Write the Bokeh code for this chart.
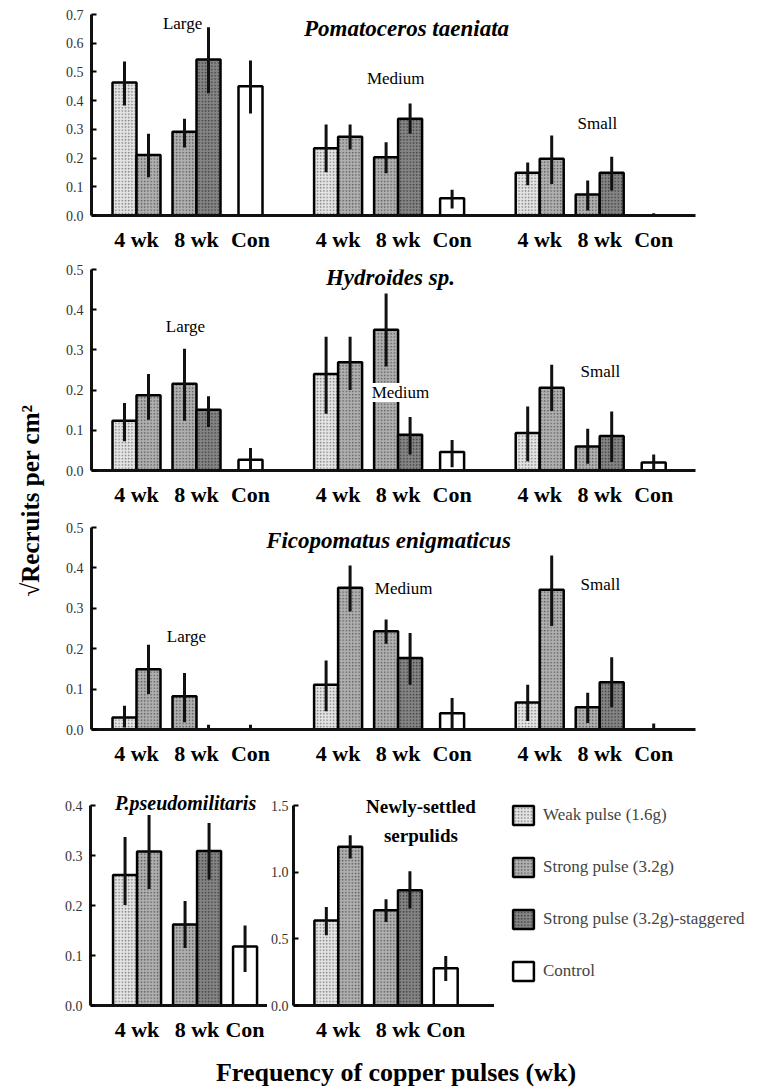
from bokeh.plotting import figure
from bokeh.layouts import row, column
from bokeh.models import (Range1d, FixedTicker, Label, Legend, LegendItem,
                          ColumnDataSource, NumeralTickFormatter)
from bokeh.embed import file_html
from bokeh.resources import INLINE

# ---------------- data ----------------
SIZE_GROUPS = ["Large", "Medium", "Small"]
TICK_LABELS = ["4 wk", "8 wk", "Con"]
TREATMENTS = ["Weak pulse (1.6g)", "Strong pulse (3.2g)",
              "Strong pulse (3.2g)-staggered", "Control"]
# bar order inside each group: weak 4wk, strong 4wk, strong 8wk, staggered 8wk, control
BAR_TREATMENT = [0, 1, 1, 2, 3]

pomato_mean = [0.463, 0.211, 0.292, 0.543, 0.450,
               0.234, 0.274, 0.203, 0.337, 0.060,
               0.149, 0.198, 0.073, 0.149, 0.000]
pomato_lo = [0.383, 0.133, 0.237, 0.426, 0.355,
             0.151, 0.230, 0.147, 0.285, 0.024,
             0.105, 0.110, 0.017, 0.087, 0.000]
pomato_hi = [0.536, 0.285, 0.337, 0.656, 0.540,
             0.317, 0.317, 0.255, 0.390, 0.090,
             0.185, 0.279, 0.122, 0.205, 0.008]

hydro_mean = [0.124, 0.187, 0.216, 0.151, 0.027,
              0.240, 0.269, 0.350, 0.089, 0.046,
              0.093, 0.206, 0.060, 0.086, 0.020]
hydro_lo = [0.073, 0.126, 0.124, 0.108, 0.000,
            0.141, 0.200, 0.259, 0.040, 0.008,
            0.023, 0.148, 0.017, 0.021, 0.004]
hydro_hi = [0.168, 0.240, 0.303, 0.185, 0.056,
            0.333, 0.333, 0.440, 0.133, 0.076,
            0.159, 0.263, 0.104, 0.147, 0.040]

fico_mean = [0.030, 0.149, 0.082, 0.000, 0.000,
             0.111, 0.351, 0.243, 0.177, 0.040,
             0.067, 0.346, 0.055, 0.117, 0.000]
fico_lo = [0.005, 0.088, 0.018, 0.000, 0.000,
           0.045, 0.292, 0.212, 0.111, 0.000,
           0.021, 0.256, 0.016, 0.055, 0.000]
fico_hi = [0.059, 0.210, 0.140, 0.012, 0.012,
           0.171, 0.406, 0.272, 0.239, 0.078,
           0.111, 0.431, 0.091, 0.179, 0.015]

pseudo_mean = [0.261, 0.308, 0.162, 0.309, 0.118]
pseudo_lo = [0.201, 0.233, 0.115, 0.252, 0.067]
pseudo_hi = [0.337, 0.381, 0.209, 0.365, 0.160]

newly_mean = [0.638, 1.190, 0.714, 0.864, 0.280]
newly_lo = [0.526, 1.103, 0.626, 0.727, 0.183]
newly_hi = [0.739, 1.276, 0.797, 1.006, 0.371]

# ---------------- styles ----------------
FONT = "Liberation Serif"
FILL = ["#e4e4e4", "#b0b0b0", "#858585", "#ffffff"]
HATCH = ["#7a7a7a", "#5a5a5a", "#3a3a3a", "#ffffff"]
PATTERN = ["dot", "dot", "dot", " "]

OFFS_WIDE = [0.0, 1.0, 2.5, 3.5, 5.25]
OFFS_SMALL = [0.0, 1.0, 2.5, 3.5, 5.0]
STRIDE = 8.4


def bar_style(t):
    return dict(fill_color=FILL[t], hatch_pattern=PATTERN[t], hatch_color=HATCH[t],
                hatch_scale=3.2, hatch_weight=1.0, line_color="black", line_width=2.5)


def make_panel(mean, lo, hi, offs, n_groups, xr, yr, ybound, yticks, width, height,
               borders, label_size, ystand=8):
    left, right, top, bottom = borders
    p = figure(width=width, height=height, x_range=Range1d(*xr), y_range=Range1d(*yr),
               toolbar_location=None, output_backend="svg",
               min_border_left=left, min_border_right=right,
               min_border_top=top, min_border_bottom=bottom)
    p.outline_line_color = None
    p.grid.visible = False
    p.background_fill_color = "white"
    xs = [g * STRIDE + o for g in range(n_groups) for o in offs]
    tr = [BAR_TREATMENT[i % 5] for i in range(len(xs))]
    for t in range(4):
        idx = [i for i in range(len(xs)) if tr[i] == t]
        src = ColumnDataSource(dict(x=[xs[i] for i in idx], top=[mean[i] for i in idx]))
        p.vbar(x="x", top="top", bottom=0, width=1.0, source=src, **bar_style(t))
    p.segment(x0=xs, y0=lo, x1=xs, y1=hi, line_color="#111111", line_width=3)

    ticks, overrides = [], {}
    for g in range(n_groups):
        base = g * STRIDE
        for pos, lab in zip([base + (offs[0] + offs[1]) / 2,
                             base + (offs[2] + offs[3]) / 2,
                             base + offs[4]], TICK_LABELS):
            ticks.append(pos)
            overrides[pos] = lab
    xa = p.xaxis[0]
    xa.ticker = FixedTicker(ticks=ticks)
    xa.major_label_overrides = overrides
    xa.major_tick_in = 0
    xa.major_tick_out = 0
    xa.minor_tick_line_color = None
    xa.axis_line_width = 3
    xa.axis_line_color = "#111111"
    xa.major_label_text_font = FONT
    xa.major_label_text_font_style = "bold"
    xa.major_label_text_font_size = label_size
    xa.major_label_text_color = "black"
    xa.major_label_standoff = 11

    ya = p.yaxis[0]
    ya.ticker = FixedTicker(ticks=yticks)
    ya.formatter = NumeralTickFormatter(format="0.0")
    ya.bounds = ybound
    ya.major_tick_in = 5
    ya.major_tick_out = 0
    ya.major_tick_line_width = 2
    ya.minor_tick_line_color = None
    ya.axis_line_width = 3
    ya.axis_line_color = "#111111"
    ya.major_label_text_font = FONT
    ya.major_label_text_font_size = "14px"
    ya.major_label_text_color = "#333333"
    ya.major_label_standoff = ystand
    return p


def add_text(p, x, y, text, size, style="normal", bg=None):
    p.add_layout(Label(x=x, y=y, text=text, text_font=FONT, text_font_size=size,
                       text_font_style=style, text_align="center",
                       text_baseline="middle", text_color="black",
                       background_fill_color=bg))


XR_WIDE = (-1.375, -1.375 + 604 / 24)

# Panel 1
p1 = make_panel(pomato_mean, pomato_lo, pomato_hi, OFFS_WIDE, 3, XR_WIDE, (0, 0.7), (0, 0.7),
                [0, 0.1, 0.2, 0.3, 0.4, 0.5, 0.6, 0.7], 662, 258, (38, 20, 14, 43), "22px")
add_text(p1, 11.75, 0.651, "Pomatoceros taeniata", "23px", "bold italic")
add_text(p1, 2.42, 0.669, SIZE_GROUPS[0], "17px")
add_text(p1, 11.3, 0.477, SIZE_GROUPS[1], "17px")
add_text(p1, 19.7, 0.32, SIZE_GROUPS[2], "17px")

# Panel 2
p2 = make_panel(hydro_mean, hydro_lo, hydro_hi, OFFS_WIDE, 3, XR_WIDE, (0, 0.5), (0, 0.5),
                [0, 0.1, 0.2, 0.3, 0.4, 0.5], 662, 252, (38, 20, 11, 40), "22px")
add_text(p2, 11.08, 0.48, "Hydroides sp.", "23px", "bold italic")
add_text(p2, 2.54, 0.358, SIZE_GROUPS[0], "17px")
add_text(p2, 11.5, 0.194, SIZE_GROUPS[1], "17px", bg="white")
add_text(p2, 19.83, 0.246, SIZE_GROUPS[2], "17px")

# Panel 3
p3 = make_panel(fico_mean, fico_lo, fico_hi, OFFS_WIDE, 3, XR_WIDE, (0, 0.5), (0, 0.5),
                [0, 0.1, 0.2, 0.3, 0.4, 0.5], 662, 262, (38, 20, 17, 43), "22px")
add_text(p3, 11.0, 0.468, "Ficopomatus enigmaticus", "23px", "bold italic")
add_text(p3, 2.58, 0.23, SIZE_GROUPS[0], "17px")
add_text(p3, 11.63, 0.349, SIZE_GROUPS[1], "17px")
add_text(p3, 19.83, 0.36, SIZE_GROUPS[2], "17px")

# Panel 4 (frame extends 30px above the axis top to hold the title)
p4 = make_panel(pseudo_mean, pseudo_lo, pseudo_hi, OFFS_SMALL, 1, (-1.44, -1.44 + 177 / 24),
                (0, 0.46), (0, 0.4), [0, 0.1, 0.2, 0.3, 0.4], 214, 273, (37, 0, 3, 40), "22px")
add_text(p4, 2.52, 0.406, "P.pseudomilitaris", "20px", "bold italic")

# Panel 5
p5 = make_panel(newly_mean, newly_lo, newly_hi, OFFS_SMALL, 1, (-1.375, -1.375 + 202 / 24),
                (0, 1.725), (0, 1.5), [0, 0.5, 1.0, 1.5], 227, 273, (25, 0, 3, 40), "22px",
                ystand=5)
add_text(p5, 3.96, 1.49, "Newly-settled", "19px", "bold")
add_text(p5, 3.96, 1.275, "serpulids", "19px", "bold")

# Legend figure (same top/bottom borders as its row neighbours; pixel-unit ranges)
LEG_W, LEG_FRAME_H = 270, 230
GLYPH_W, GLYPH_H, ROW_GAP, LEG_X, LEG_Y = 26, 24, 28, 16, 22
pl = figure(width=LEG_W, height=273, x_range=Range1d(0, LEG_W), y_range=Range1d(0, LEG_FRAME_H),
            toolbar_location=None, output_backend="svg",
            x_axis_location=None, y_axis_location=None,
            min_border_left=0, min_border_top=3, min_border_right=0, min_border_bottom=40)
pl.outline_line_color = None
pl.grid.visible = False
items = []
leg_top = LEG_Y + 4 * GLYPH_H + 3 * ROW_GAP
INSET = 5
for t, name in enumerate(TREATMENTS):
    # small carrier swatch hidden beneath the legend's own (opaque) glyph box
    top_t = leg_top - t * (GLYPH_H + ROW_GAP)
    r = pl.vbar(x=[LEG_X + GLYPH_W / 2], top=[top_t - INSET], bottom=[top_t - GLYPH_H + INSET],
                width=GLYPH_W - 2 * INSET, **bar_style(t))
    items.append(LegendItem(label=name, renderers=[r]))
leg = Legend(items=items, location=(LEG_X, LEG_Y), glyph_width=GLYPH_W, glyph_height=GLYPH_H,
             spacing=ROW_GAP, padding=0, margin=0, border_line_color=None,
             background_fill_alpha=0, label_text_font=FONT, label_text_font_size="17px",
             label_standoff=7, label_height=GLYPH_H)
pl.add_layout(leg)

# Y label figure
TOTAL_H = 258 + 252 + 262 + 273 + 43
py = figure(width=53, height=TOTAL_H, x_range=Range1d(0, 53), y_range=Range1d(0, TOTAL_H),
            toolbar_location=None, output_backend="svg",
            x_axis_location=None, y_axis_location=None, min_border=0)
py.outline_line_color = None
py.grid.visible = False
py.add_layout(Label(x=30, y=TOTAL_H - 500, text="√Recruits per cm²", text_font=FONT,
                    text_font_size="25px", text_font_style="bold", angle=1.5708,
                    text_align="center", text_baseline="middle", text_color="black"))

# X title figure
px = figure(width=662, height=43, x_range=Range1d(0, 662), y_range=Range1d(0, 43),
            toolbar_location=None, output_backend="svg",
            x_axis_location=None, y_axis_location=None, min_border=0)
px.outline_line_color = None
px.grid.visible = False
px.add_layout(Label(x=334, y=16, text="Frequency of copper pulses (wk)", text_font=FONT,
                    text_font_size="26px", text_font_style="bold",
                    text_align="center", text_baseline="middle", text_color="black"))

layout = row(py, column(p1, p2, p3, row(p4, p5, pl), px))

open("out.html", "w").write(file_html(layout, INLINE))
